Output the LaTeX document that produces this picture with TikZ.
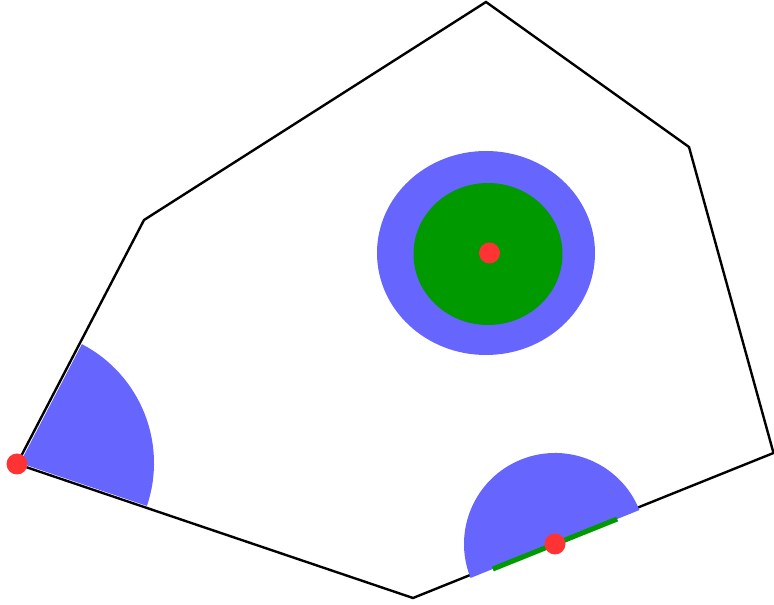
\documentclass[tikz,border=0pt]{standalone}
\usetikzlibrary{calc}
\definecolor{bluefill}{HTML}{6666FF}
\definecolor{greenfill}{HTML}{009900}
\definecolor{reddot}{HTML}{FF3333}
\begin{document}
\begin{tikzpicture}[x=1pt,y=1pt,
  outline/.style={draw=black,line width=2.4pt,line join=miter},
  bluearea/.style={fill=bluefill},
  greenarea/.style={fill=greenfill},
  dotmark/.style={fill=reddot}]
\useasboundingbox (0,0) rectangle (774,605);
\coordinate (A) at (486,603);
\coordinate (B) at (689,458);
\coordinate (C) at (773.5,152);
\coordinate (D) at (413,7);
\coordinate (E) at (17,141);
\coordinate (F) at (144,385);
\draw[outline] (A) -- (B) -- (C) -- (D) -- (E) -- (F) -- cycle;
% central ellipses
\coordinate (M) at (486,352);
\fill[bluearea] (M) ellipse [x radius=109, y radius=102];
\fill[greenarea] (488,351) ellipse [x radius=74.5, y radius=71];
\fill[dotmark] (489.5,352) circle [radius=10.5];
% left wedge
\coordinate (W) at (20,142);
\fill[bluearea] (W) -- ++(-18.7:134) arc[start angle=-18.7, end angle=62.5, radius=134] -- cycle;
\fill[dotmark] (E) circle [radius=10.5];
% bottom half disk
\coordinate (H) at (555,61);
\fill[bluearea] (H) ++(21.9:91) arc[start angle=21.9, end angle=201.9, radius=91] -- cycle;
\draw[greenfill,line width=5pt] ($(H)+(21.9:67)$) -- ($(H)+(201.9:67)$);
\fill[dotmark] (H) circle [radius=10.5];
\end{tikzpicture}
\end{document}
